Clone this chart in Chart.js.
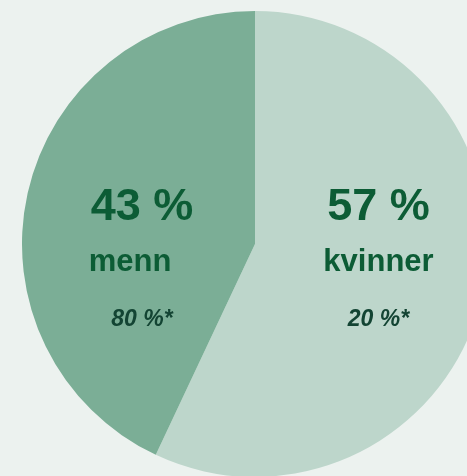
<!DOCTYPE html>
<html>
<head>
<meta charset="utf-8">
<script src="https://cdn.jsdelivr.net/npm/chart.js@4/dist/chart.umd.min.js"></script>
<style>
  html, body { margin: 0; padding: 0; width: 467px; height: 476px; overflow: hidden; background: #ecf2ef; }
  #wrap { position: absolute; left: 22px; top: 11px; width: 466px; height: 466px; }
</style>
</head>
<body>
<div id="wrap"><canvas id="pie"></canvas></div>
<script>
// ── data ─────────────────────────────────────────────
const categories = ["kvinner", "menn"];
const shares     = [57, 43];
const footnotes  = ["20 %*", "80 %*"];
const colors     = ["#bdd6cb", "#7bae96"];

// labels drawn inside each slice, offset from the pie centre
const labelPlugin = {
  id: "sliceLabels",
  afterDatasetsDraw(chart) {
    const arc = chart.getDatasetMeta(0).data[0];
    const cx = arc.x, cy = arc.y, r = arc.outerRadius;
    const dx = [0.53 * r, -0.485 * r];
    const { ctx } = chart;
    ctx.save();
    ctx.textAlign = "center";
    ctx.textBaseline = "alphabetic";
    categories.forEach((c, i) => {
      const x = cx + dx[i];
      ctx.fillStyle = "#0c5c35";
      ctx.font = "bold 45px 'Liberation Sans', Arial, sans-serif";
      ctx.fillText(shares[i] + " %", x, cy - 24);
      ctx.font = "bold 31px 'Liberation Sans', Arial, sans-serif";
      ctx.fillText(c, x - (i === 1 ? 12 : 0), cy + 27);
      ctx.fillStyle = "#134433";
      ctx.font = "italic bold 23px 'Liberation Sans', Arial, sans-serif";
      ctx.fillText(footnotes[i], x, cy + 82);
    });
    ctx.restore();
  }
};

new Chart(document.getElementById("pie"), {
  type: "pie",
  data: {
    labels: categories,
    datasets: [{
      data: shares,
      backgroundColor: colors,
      borderWidth: 0,
      hoverOffset: 0,
    }],
  },
  options: {
    responsive: true,
    maintainAspectRatio: false,
    animation: false,
    layout: { padding: 0 },
    plugins: {
      legend: { display: false },
      tooltip: { enabled: false },
    },
  },
  plugins: [labelPlugin],
});
</script>
</body>
</html>
